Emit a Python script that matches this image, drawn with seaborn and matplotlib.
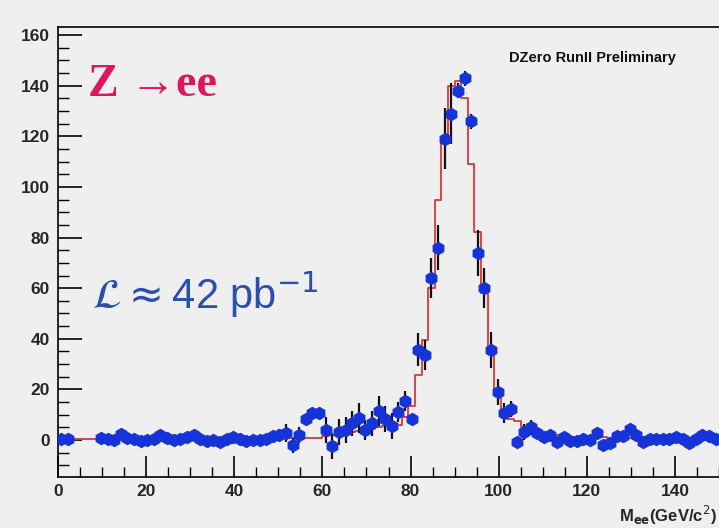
import numpy as np
import pandas as pd
import matplotlib
matplotlib.use("Agg")
import matplotlib.pyplot as plt
import seaborn as sns
from matplotlib.ticker import MultipleLocator

# 100 bins of 1.5 GeV from 0 to 150
bin_edges = np.arange(0, 151.5, 1.5)
bin_centers = bin_edges[:-1] + 0.75

# data points (background subtracted), None = empty bin
data_counts = [
    0.5, 0.3, None, None, None, None, 1.0, 0.5, 0.2, 2.3,
    0.8, 0.3, -0.5, 0.0, 0.3, 2.0, 1.0, 0.2, 0.5, 1.2,
    2.0, 0.5, -0.3, 0.2, -0.8, 0.5, 1.2, 0.5, -0.3, 0.0,
    0.2, 0.5, 1.5, 2.0, 2.9, -2.0, 2.0, 8.2, 10.6, 10.6,
    4.0, -2.4, 3.2, 4.0, 6.6, 8.6, 4.0, 6.6, 11.5, 8.3,
    5.5, 11.0, 15.5, 8.3, 35.6, 33.5, 64.0, 76.0, 119.0, 129.0,
    138.0, 143.0, 126.0, 74.0, 60.0, 35.6, 19.0, 10.6, 12.3, -0.8,
    3.2, 5.1, 2.8, 1.2, 2.0, -0.8, 1.2, -0.5, -0.3, 0.6,
    0.0, 2.6, -2.0, -1.0, 1.5, 1.5, 4.4, 2.0, -0.6, 0.6,
    0.6, 0.6, 0.3, 1.3, 0.5, -1.3, 0.3, 2.0, 1.5, 0.6,
]

data_errors = [
    1.5, 1.5, 0, 0, 0, 0, 1.5, 1.5, 1.5, 1.5,
    1.5, 1.5, 1.5, 1.5, 1.5, 1.5, 1.5, 1.5, 1.5, 1.5,
    1.5, 1.5, 1.5, 1.5, 1.5, 1.5, 1.5, 1.5, 1.5, 1.5,
    1.5, 1.5, 2.0, 2.5, 3.5, 3.0, 3.0, 2.0, 2.0, 2.0,
    5.0, 5.0, 5.0, 5.0, 5.0, 6.0, 4.0, 5.0, 6.0, 5.0,
    5.0, 4.0, 4.0, 2.0, 6.5, 6.0, 8.0, 9.0, 12.0, 12.0,
    3.0, 3.0, 3.0, 9.0, 8.0, 7.0, 5.0, 4.0, 3.0, 2.0,
    3.0, 3.0, 2.0, 1.5, 1.5, 1.5, 1.5, 1.5, 1.5, 1.5,
    1.5, 1.5, 1.5, 1.5, 1.5, 1.5, 1.5, 1.5, 1.5, 1.5,
    1.5, 1.5, 1.5, 1.5, 1.5, 1.5, 1.5, 1.5, 1.5, 1.5,
]

# simulation histogram (red)
mc_counts = [
    0.3, 0.3, 0.3, 0.3, 0.3, 0.3, 0.3, 0.3, 0.3, 0.3,
    0.3, 0.3, 0.3, 0.3, 0.3, 0.3, 0.3, 0.3, 0.3, 0.3,
    0.3, 0.3, 0.3, 0.3, 0.3, 0.3, 0.3, 0.3, 0.3, 0.3,
    0.5, 0.5, 0.5, 0.5, 0.8, 0.8, 0.8, 0.8, 0.8, 1.0,
    1.5, 2.0, 2.5, 3.0, 3.0, 3.5, 4.0, 4.5, 5.0, 5.5,
    6.0, 6.0, 9.0, 13.4, 25.7, 39.5, 60.0, 95.0, 119.0, 140.0,
    142.0, 135.0, 109.0, 82.0, 58.0, 35.0, 20.0, 12.0, 8.5, 7.5,
    5.0, 4.0, 3.0, 2.5, 2.0, 1.8, 1.5, 1.3, 1.2, 1.2,
    1.2, 1.1, 1.1, 1.0, 1.0, 1.0, 1.0, 0.9, 0.9, 0.9,
    0.9, 0.9, 0.8, 0.8, 0.8, 0.8, 0.8, 0.8, 0.8, 0.8,
]

df = pd.DataFrame({
    "mass": bin_centers,
    "data": pd.to_numeric(pd.Series(data_counts), errors="coerce"),
    "err": data_errors,
    "mc": mc_counts,
})

bg = "#efefef"
sns.set_theme(style="ticks")
plt.rcParams["font.family"] = ["Liberation Sans", "DejaVu Sans"]
plt.rcParams["mathtext.fontset"] = "dejavusans"

fig = plt.figure(figsize=(7.19, 5.28), dpi=100, facecolor=bg)
ax = fig.add_axes([0.0807, 0.0966, 0.9193, 0.8523])
ax.set_facecolor(bg)

# red histogram
sns.lineplot(data=df, x="mass", y="mc", drawstyle="steps-mid", color="#d8383c",
             lw=1.3, ax=ax, zorder=2)

# error bars
pts = df.dropna(subset=["data"])
ax.errorbar(pts["mass"], pts["data"], yerr=pts["err"], fmt="none",
            ecolor="#111111", elinewidth=1.6, capsize=0, zorder=3)

# data points
sns.scatterplot(data=pts, x="mass", y="data", marker="h", s=85, color="#1633d8",
                edgecolor="#1633d8", linewidth=0.5, ax=ax, zorder=4)

ax.set_xlim(0, 150)
ax.set_ylim(-14.6, 163.2)
ax.set_xlabel("")
ax.set_ylabel("")

ax.xaxis.set_major_locator(MultipleLocator(20))
ax.xaxis.set_minor_locator(MultipleLocator(5))
ax.yaxis.set_major_locator(MultipleLocator(20))
ax.yaxis.set_minor_locator(MultipleLocator(5))
ax.tick_params(which="major", direction="in", length=17, width=1.2, color="black",
               labelsize=12.5, pad=6)
ax.tick_params(which="minor", direction="in", length=8, width=1.0, color="black")
ax.tick_params(axis="x", which="major", length=15, pad=5)
ax.tick_params(axis="x", which="minor", length=7)
for lab in ax.get_xticklabels() + ax.get_yticklabels():
    lab.set_fontweight("bold")

for side in ["left", "bottom", "top"]:
    ax.spines[side].set_color("black")
    ax.spines[side].set_linewidth(1.2)
ax.spines["right"].set_visible(False)

# annotations
ax.text(0.045, 0.872, "Z \u2192ee", transform=ax.transAxes,
        fontsize=33, fontweight="bold", color="#e0155c",
        family=["Liberation Serif", "DejaVu Serif"], va="center", ha="left")
ax.text(0.052, 0.405, r"$\mathcal{L}\approx$42 pb$^{-1}$", transform=ax.transAxes,
        fontsize=30, color="#2b4fae", va="center", ha="left")
ax.text(0.682, 0.932, "DZero RunII Preliminary", transform=ax.transAxes,
        fontsize=10.5, fontweight="bold", color="#111111", va="center", ha="left")
fig.text(0.997, 0.024, r"M$_{\mathbf{ee}}$(GeV/c$^{2}$)", fontsize=12,
         fontweight="bold", ha="right", va="center")

fig.savefig("out.png", dpi=100, facecolor=bg)
